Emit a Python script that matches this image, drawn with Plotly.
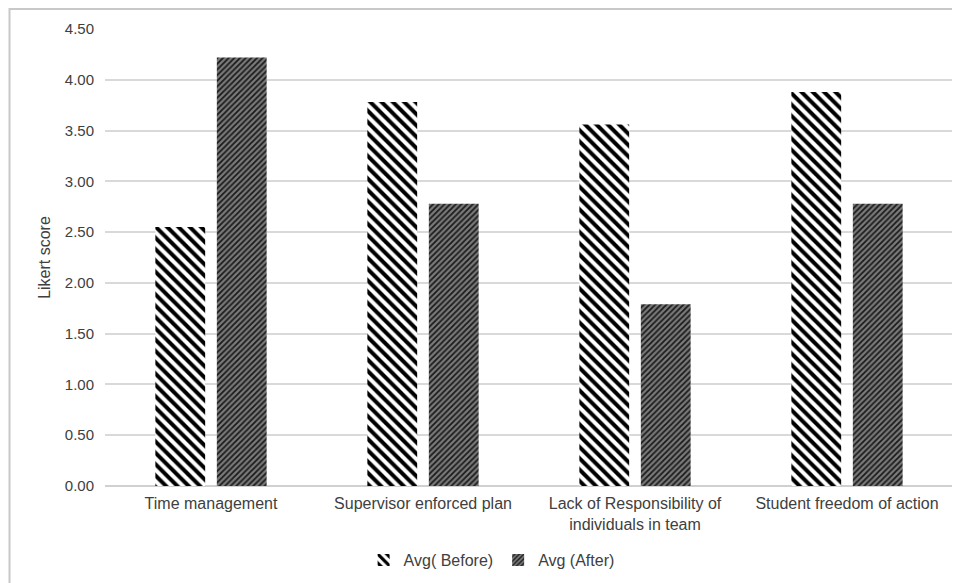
import plotly.graph_objects as go

categories = ["Time management", "Supervisor enforced plan",
              "Lack of Responsibility of<br>individuals in team", "Student freedom of action"]
before_vals = [2.55, 3.78, 3.56, 3.88]
after_vals = [4.22, 2.78, 1.79, 2.78]
series_names = ["Avg( Before)", "Avg (After)"]
tick_vals = [0, 0.5, 1, 1.5, 2, 2.5, 3, 3.5, 4, 4.5]
tick_text = ["0.00", "0.50", "1.00", "1.50", "2.00", "2.50", "3.00", "3.50", "4.00", "4.50"]

fig = go.Figure()
fig.add_trace(go.Bar(
    x=categories, y=before_vals, name=series_names[0],
    marker=dict(color="white", line=dict(width=0),
                pattern=dict(shape="\\", fgcolor="#000000", bgcolor="#ffffff",
                             size=8, solidity=0.5, fgopacity=1, fillmode="replace")),
))
fig.add_trace(go.Bar(
    x=categories, y=after_vals, name=series_names[1],
    marker=dict(color="#666666", line=dict(width=0),
                pattern=dict(shape="/", fgcolor="#1a1a1a", bgcolor="#7a7a7a",
                             size=4, solidity=0.45, fgopacity=1, fillmode="replace")),
))

# page has an 8px body margin, so the figure is sized/offset to compensate
fig.update_layout(
    width=952, height=575,
    paper_bgcolor="white", plot_bgcolor="white",
    margin=dict(l=97, r=7, t=21, b=97, autoexpand=False),
    barmode="group", bargap=0.42, bargroupgap=0.19,
    font=dict(family="Liberation Sans, Arial, sans-serif", size=15, color="#595959"),
    showlegend=True,
    legend=dict(orientation="h", xref="container", yref="container",
                x=0.508, xanchor="center", y=0.04, yanchor="middle",
                font=dict(size=16, color="#404040"), itemwidth=30,
                traceorder="normal"),
    shapes=[dict(type="rect", xref="paper", yref="paper",
                 x0=-0.1126, x1=1.05, y0=-0.3, y1=1.0438,
                 line=dict(color="#c8c8c8", width=2), layer="below")],
)
fig.update_yaxes(range=[0, 4.5], tickvals=tick_vals, ticktext=tick_text,
                 showgrid=True, gridcolor="#d9d9d9", gridwidth=1.5,
                 zeroline=True, zerolinecolor="#d0d0d0", zerolinewidth=2,
                 ticklabelstandoff=10, showline=False, automargin=False,
                 tickfont=dict(size=15, color="#404040"),
                 title=dict(text="Likert score", standoff=10, font=dict(size=16, color="#404040")))
fig.update_xaxes(showgrid=False, showline=False, ticks="", automargin=False,
                 ticklabelstandoff=6,
                 tickfont=dict(size=16, color="#404040"))

fig.write_html("out.html")
